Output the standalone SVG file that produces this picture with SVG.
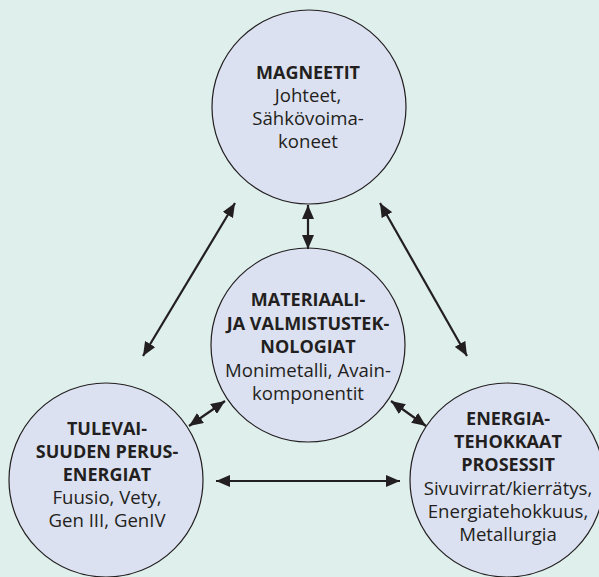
<svg xmlns="http://www.w3.org/2000/svg" width="599" height="577" viewBox="0 0 599 577">
<defs>
<style>
.bg{fill:#deefec}
.node circle{fill:#dce1f1;stroke:#231f20;stroke-width:1.2}
text{font-family:"Open Sans","Noto Sans",sans-serif;font-size:18.6px;fill:#231f20;text-anchor:middle}
.b{font-weight:bold;font-size:18px}
.conn line{stroke:#231f20;stroke-width:2.2;marker-start:url(#ah);marker-end:url(#ah)}
</style>
<marker id="ah" markerUnits="userSpaceOnUse" viewBox="0 0 14 12" refX="14" refY="6" markerWidth="14" markerHeight="12" orient="auto-start-reverse">
<path d="M0,0 L14,6 L0,12 z" fill="#231f20"/>
</marker>
</defs>
<rect class="bg" x="0" y="0" width="599" height="577"/>
<g id="node-magneetit" class="node">
<circle cx="309" cy="107" r="97"/>
<text x="308" y="79"><tspan class="b">MAGNEETIT</tspan><tspan x="308" dy="23">Johteet,</tspan><tspan x="308" dy="23">Sähkövoima-</tspan><tspan x="308" dy="23">koneet</tspan></text>
</g>
<g id="node-materiaali" class="node">
<circle cx="308" cy="345" r="97"/>
<text x="308" y="306"><tspan class="b">MATERIAALI-</tspan><tspan class="b" x="308" dy="23.5">JA VALMISTUSTEK-</tspan><tspan class="b" x="308" dy="23.5">NOLOGIAT</tspan><tspan x="308" dy="23.5">Monimetalli, Avain-</tspan><tspan x="308" dy="23.5">komponentit</tspan></text>
</g>
<g id="node-tulevaisuuden" class="node">
<circle cx="106" cy="480" r="97"/>
<text x="107" y="435"><tspan class="b">TULEVAI-</tspan><tspan class="b" x="107" dy="23">SUUDEN PERUS-</tspan><tspan class="b" x="107" dy="23">ENERGIAT</tspan><tspan x="107" dy="23">Fuusio, Vety,</tspan><tspan x="107" dy="23">Gen III, GenIV</tspan></text>
</g>
<g id="node-energiatehokkaat" class="node">
<circle cx="507" cy="480" r="97"/>
<text x="508" y="425"><tspan class="b">ENERGIA-</tspan><tspan class="b" x="508" dy="23.2">TEHOKKAAT</tspan><tspan class="b" x="508" dy="23.2">PROSESSIT</tspan><tspan x="508" dy="23.2">Sivuvirrat/kierrätys,</tspan><tspan x="508" dy="23.2">Energiatehokkuus,</tspan><tspan x="508" dy="23.2">Metallurgia</tspan></text>
</g>
<g id="connectors" class="conn">
<line x1="308" y1="205" x2="308" y2="249"/>
<line x1="143" y1="356" x2="235" y2="203"/>
<line x1="467" y1="356" x2="380" y2="203"/>
<line x1="189" y1="426" x2="225" y2="401"/>
<line x1="391" y1="401" x2="426" y2="426"/>
<line x1="216" y1="481" x2="400" y2="481"/>
</g>
</svg>
